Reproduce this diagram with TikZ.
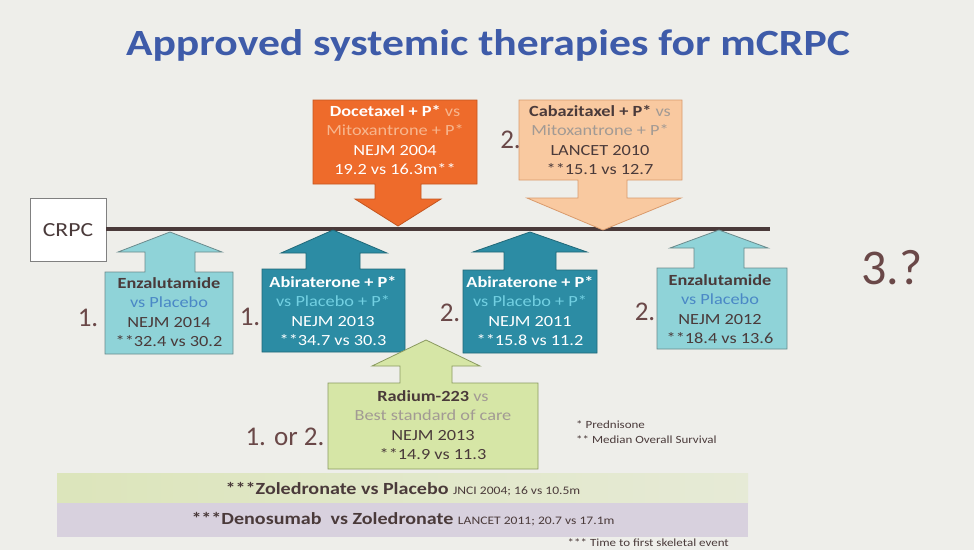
\documentclass[tikz,border=0pt]{standalone}
\usepackage{fontspec}
\setmainfont{Carlito}
\newfontfamily\widefont{Carlito}[FakeStretch=1.18]
\definecolor{bgcol}{HTML}{EEEEEA}
\definecolor{titleblue}{HTML}{3E5BA9}
\definecolor{darktxt}{HTML}{4A3A3A}
\definecolor{numcol}{HTML}{6A4848}
\definecolor{orangefill}{HTML}{EE6B2B}
\definecolor{orangeline}{HTML}{C4551F}
\definecolor{orangelt}{HTML}{F7B68E}
\definecolor{peachfill}{HTML}{F9C9A0}
\definecolor{peachline}{HTML}{D99A6C}
\definecolor{graytxt}{HTML}{A29A94}
\definecolor{cyanfill}{HTML}{8FD3D8}
\definecolor{cyanline}{HTML}{6A8A8C}
\definecolor{bluetxt}{HTML}{4A88C6}
\definecolor{tealfill}{HTML}{2C8CA4}
\definecolor{tealline}{HTML}{206878}
\definecolor{teallt}{HTML}{72D0E2}
\definecolor{greenfill}{HTML}{D6E6A6}
\definecolor{greenline}{HTML}{8A9A60}
\definecolor{bandgreen}{HTML}{DCE5BB}
\definecolor{bandgreenlt}{HTML}{E6EAD6}
\definecolor{bandpurple}{HTML}{D8D1DE}
\begin{document}
\begin{tikzpicture}[x=1pt,y=-1pt,
    boxtext/.style={align=center, font=\widefont\fontsize{15.5}{19.5}\selectfont, inner sep=0pt},
    numlabel/.style={text=numcol, font=\fontsize{27}{27}\selectfont, inner sep=0pt},
    callout/.style={line width=0.8pt, line join=miter}]
        % Background
        \fill[bgcol] (0,0) rectangle (974,550);
        \useasboundingbox (0,0) rectangle (974,550);

        % Title
        \node[text=titleblue, font=\widefont\fontsize{37}{37}\selectfont\bfseries] (title) at (488,45) {Approved systemic therapies for mCRPC};

        % CRPC and timeline
        \node[draw=gray, fill=white, line width=0.8pt, minimum width=76pt, minimum height=63pt,
              text=darktxt, font=\widefont\fontsize{20}{20}\selectfont] (crpc) at (68,230) {CRPC};
        \coordinate (lineR) at (770,229);
        \draw[darktxt, line width=3.5pt] (crpc.east |- lineR) -- (lineR);

        % Docetaxel (down)
        \draw[callout, fill=orangefill, draw=orangeline]
            (313,100) -- (477,100) -- (477,184) -- (421,184) -- (421,199) -- (441,199)
            -- (398,226) -- (355,199) -- (375,199) -- (375,184) -- (313,184) -- cycle;
        \node[boxtext, text=white] (doce) at (395,140)
            {{\bfseries Docetaxel + P*} \textcolor{orangelt}{vs}\\
             \textcolor{orangelt}{Mitoxantrone + P*}\\ NEJM 2004\\ 19.2 vs 16.3m**};

        % Cabazitaxel (down)
        \draw[callout, fill=peachfill, draw=peachline]
            (519,100) -- (682,100) -- (682,180) -- (627,180) -- (627,198) -- (681,198)
            -- (603,230) -- (527,198) -- (578,198) -- (578,180) -- (519,180) -- cycle;
        \node[boxtext, text=darktxt] (caba) at (600,140)
            {{\bfseries Cabazitaxel + P*} \textcolor{graytxt}{vs}\\
             \textcolor{graytxt}{Mitoxantrone + P*}\\ LANCET 2010\\ **15.1 vs 12.7};
        \node[numlabel, anchor=east] (n2caba) at (521,140) {2.};

        % Enzalutamide 2014 (up)
        \draw[callout, fill=cyanfill, draw=cyanline]
            (105,354) -- (105,272) -- (145,272) -- (145,252) -- (118,252) -- (170,232)
            -- (222,252) -- (195,252) -- (195,272) -- (233,272) -- (233,354) -- cycle;
        \node[boxtext, text=darktxt] (enza1) at (169,312)
            {{\bfseries Enzalutamide}\\ \textcolor{bluetxt}{vs Placebo}\\ NEJM 2014\\ **32.4 vs 30.2};
        \node[numlabel] (n1enza) at (88,318) {1.};

        % Abiraterone 2013 (up)
        \draw[callout, fill=tealfill, draw=tealline]
            (262,352) -- (262,269) -- (306,269) -- (306,253) -- (281,253) -- (333,230)
            -- (387,253) -- (360,253) -- (360,269) -- (405,269) -- (405,352) -- cycle;
        \node[boxtext, text=white] (abi1) at (333,311)
            {{\bfseries Abiraterone + P*}\\ \textcolor{teallt}{vs Placebo + P*}\\ NEJM 2013\\ **34.7 vs 30.3};
        \node[numlabel] (n1abi) at (250,317) {1.};

        % Abiraterone 2011 (up)
        \draw[callout, fill=tealfill, draw=tealline]
            (463,353) -- (463,270) -- (504,270) -- (504,252) -- (473,252) -- (530,232)
            -- (587,252) -- (556,252) -- (556,270) -- (597,270) -- (597,353) -- cycle;
        \node[boxtext, text=white] (abi2) at (530,311)
            {{\bfseries Abiraterone + P*}\\ \textcolor{teallt}{vs Placebo + P*}\\ NEJM 2011\\ **15.8 vs 11.2};
        \node[numlabel] (n2abi) at (450,313) {2.};

        % Enzalutamide 2012 (up)
        \draw[callout, fill=cyanfill, draw=cyanline]
            (657,349) -- (657,268) -- (694,268) -- (694,248) -- (670,248) -- (719,230)
            -- (768,248) -- (744,248) -- (744,268) -- (787,268) -- (787,349) -- cycle;
        \node[boxtext, text=darktxt] (enza2) at (720,309)
            {{\bfseries Enzalutamide}\\ \textcolor{bluetxt}{vs Placebo}\\ NEJM 2012\\ **18.4 vs 13.6};
        \node[numlabel] (n2enza) at (645,312) {2.};

        % 3.?
        \node[text=numcol, font=\fontsize{50}{50}\selectfont, inner sep=0pt] (three) at (892,268) {3.?};

        % Radium-223 (up)
        \draw[callout, fill=greenfill, draw=greenline]
            (328,469) -- (328,383) -- (400,383) -- (400,366) -- (372,366) -- (426,340)
            -- (480,366) -- (452,366) -- (452,383) -- (538,383) -- (538,469) -- cycle;
        \node[boxtext, text=darktxt] (radium) at (433,425)
            {{\bfseries Radium-223} \textcolor{graytxt}{vs}\\ \textcolor{graytxt}{Best standard of care}\\
             NEJM 2013\\ **14.9 vs 11.3};
        \node[numlabel] (n12) at (285,437) {1. or 2.};

        % Footnotes
        \node[anchor=west, text=darktxt, align=left, font=\widefont\fontsize{11}{15.5}\selectfont, inner sep=0pt]
            (foot) at (576,432) {* Prednisone\\ ** Median Overall Survival};

        % Bone agents
        \fill[left color=bandgreen, right color=bandgreenlt] (57,473) rectangle (748,503);
        \fill[bandpurple] (57,503) rectangle (748,537);
        \node[text=darktxt, inner sep=0pt, font=\widefont] (zole) at (403,489)
            {\fontsize{17}{17}\selectfont\bfseries ***Zoledronate vs Placebo \fontsize{11.5}{11.5}\selectfont\mdseries JNCI 2004; 16 vs 10.5m};
        \node[text=darktxt, inner sep=0pt, font=\widefont] (deno) at (403,519)
            {\fontsize{17}{17}\selectfont\bfseries ***Denosumab\ \ vs Zoledronate \fontsize{11.5}{11.5}\selectfont\mdseries LANCET 2011; 20.7 vs 17.1m};
        \node[anchor=east, text=darktxt, font=\widefont\fontsize{11}{11}\selectfont, inner sep=0pt] (skel) at (729,543)
            {*** Time to first skeletal event};

    \end{tikzpicture}
\end{document}
